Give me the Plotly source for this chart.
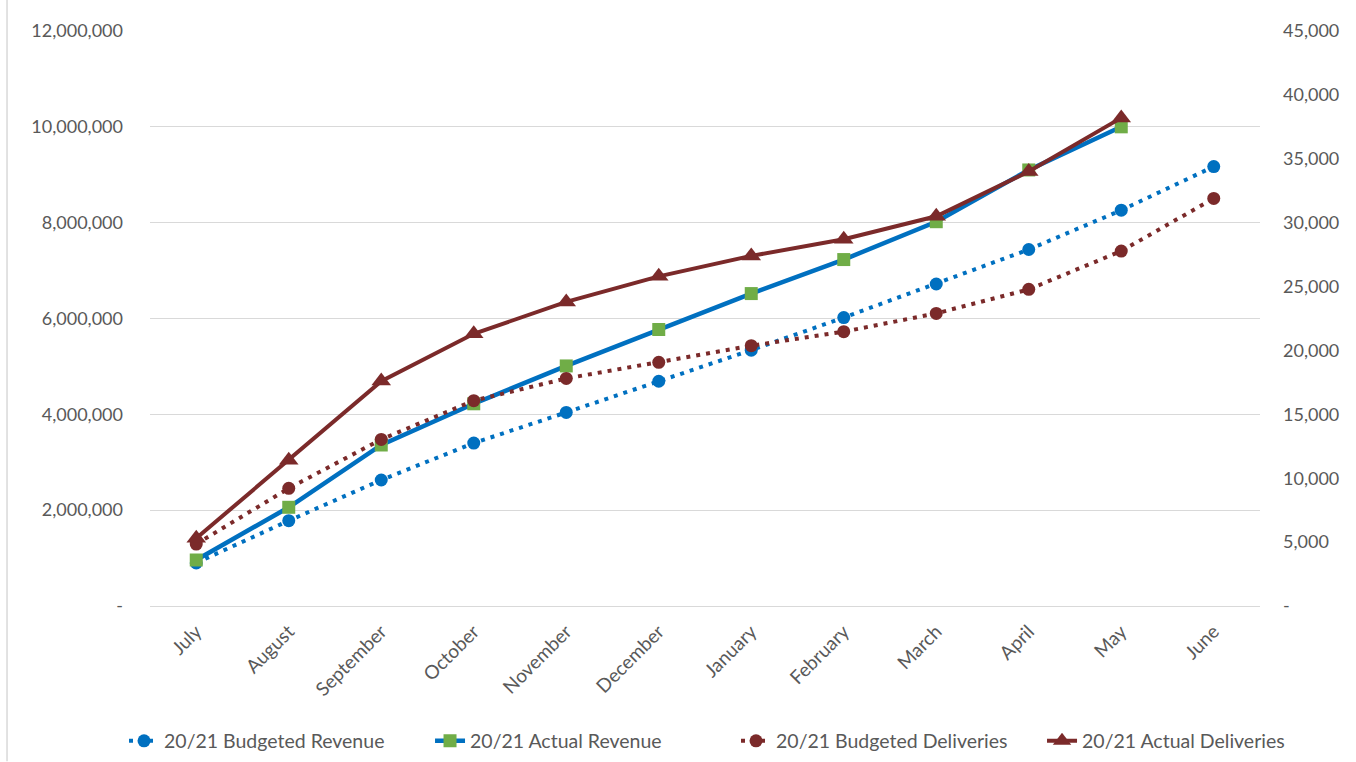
import plotly.graph_objects as go

months = ["July", "August", "September", "October", "November", "December",
          "January", "February", "March", "April", "May", "June"]

budgeted_revenue = [900000, 1780000, 2630000, 3400000, 4040000, 4690000,
                    5340000, 6020000, 6720000, 7440000, 8260000, 9170000]
actual_revenue = [960000, 2060000, 3360000, 4220000, 5010000, 5770000,
                  6520000, 7230000, 8020000, 9100000, 10000000, None]
budgeted_deliveries = [4850, 9210, 13040, 16070, 17810, 19070,
                       20370, 21470, 22900, 24780, 27780, 31900]
actual_deliveries = [5300, 11400, 17600, 21300, 23800, 25800,
                     27400, 28700, 30500, 34000, 38200, None]

left_ticks = [0, 2000000, 4000000, 6000000, 8000000, 10000000, 12000000]
left_labels = ["-", "2,000,000", "4,000,000", "6,000,000", "8,000,000", "10,000,000", "12,000,000"]
right_ticks = [0, 5000, 10000, 15000, 20000, 25000, 30000, 35000, 40000, 45000]
right_labels = ["-", "5,000", "10,000", "15,000", "20,000", "25,000", "30,000", "35,000", "40,000", "45,000"]

BLUE = "#0070C0"
GREEN = "#70AD47"
RED = "#7B2A2A"
FONT = "Lato"
GREY = "#595959"

fig = go.Figure()
fig.add_trace(go.Scatter(
    x=months, y=budgeted_revenue, name="20/21 Budgeted Revenue", mode="lines+markers",
    line=dict(color=BLUE, width=4, dash="4px,6px"),
    marker=dict(symbol="circle", size=13, color=BLUE), yaxis="y"))
fig.add_trace(go.Scatter(
    x=months, y=actual_revenue, name="20/21 Actual Revenue", mode="lines+markers",
    line=dict(color=BLUE, width=4.5),
    marker=dict(symbol="square", size=13, color=GREEN), yaxis="y"))
fig.add_trace(go.Scatter(
    x=months, y=budgeted_deliveries, name="20/21 Budgeted Deliveries", mode="lines+markers",
    line=dict(color=RED, width=4, dash="4px,6px"),
    marker=dict(symbol="circle", size=13, color=RED), yaxis="y2"))
fig.add_trace(go.Scatter(
    x=months, y=actual_deliveries, name="20/21 Actual Deliveries", mode="lines+markers",
    line=dict(color=RED, width=4),
    marker=dict(symbol="triangle-up", size=17, color=RED), yaxis="y2"))

fig.update_layout(
    width=1356, height=762,
    margin=dict(l=150, r=96, t=31, b=156, autoexpand=False),
    plot_bgcolor="white", paper_bgcolor="white",
    font=dict(family=FONT, size=18, color=GREY),
    xaxis=dict(
        type="category", range=[-0.5, 11.5], tickangle=-45, showgrid=False, zeroline=False,
        showline=True, linecolor="#D9D9D9", linewidth=1, ticks="",
        ticklabelstandoff=6,
        tickfont=dict(family=FONT, size=19, color=GREY),
    ),
    yaxis=dict(
        range=[0, 12000000], tickvals=left_ticks, ticktext=left_labels,
        showgrid=True, gridcolor="#D9D9D9", gridwidth=1, zeroline=False,
        ticks="", ticklabelstandoff=26,
        tickfont=dict(family=FONT, size=18, color=GREY),
    ),
    yaxis2=dict(
        range=[0, 45000], tickvals=right_ticks, ticktext=right_labels,
        overlaying="y", side="right", showgrid=False, zeroline=False,
        ticks="", ticklabelstandoff=22,
        tickfont=dict(family=FONT, size=18, color=GREY),
    ),
    showlegend=True,
    legend=dict(
        orientation="h", x=-0.0234, xanchor="left",
        y=-0.235, yanchor="middle",
        font=dict(family=FONT, size=19.5, color=GREY),
        entrywidth=261, entrywidthmode="pixels",
        tracegroupgap=0,
    ),
    shapes=[dict(type="line", xref="paper", yref="paper", x0=-0.1288, x1=-0.1288,
                 y0=-0.27, y1=1.06, line=dict(color="#D9D9D9", width=1.5))],
)

fig.write_html("out.html", config={"displayModeBar": False},
               post_script="document.body.style.margin='0';document.body.style.overflow='hidden';")
